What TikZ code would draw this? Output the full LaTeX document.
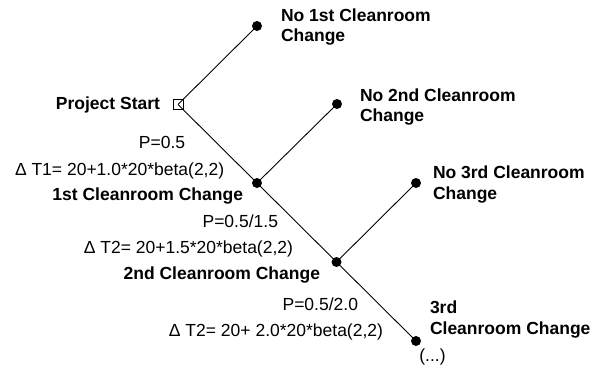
\documentclass[tikz,border=0pt]{standalone}
\usepackage{fontspec}
\setmainfont{Liberation Sans}
\begin{document}
\begin{tikzpicture}[x=1pt,y=-1pt,
  every node/.style={inner sep=0pt, outer sep=0pt, font=\fontsize{17.5}{20}\selectfont},
  bold/.style={font=\fontsize{17.5}{20}\selectfont\bfseries},
  dot/.style={circle, fill=black, minimum size=10pt},
  startbox/.style={draw, line width=0.8pt, minimum size=10pt},
  branch/.style={line width=0.9pt}]
\useasboundingbox (0,0) rectangle (602,367);
% tree nodes
\node[startbox] (start) at (178,104.5) {};
\node[dot] (e1) at (257,26) {};
\node[dot] (n1) at (257,183) {};
\node[dot] (e2) at (337,104) {};
\node[dot] (n2) at (336.5,262) {};
\node[dot] (e3) at (416,183) {};
\node[dot] (n3) at (416,341) {};
% connectors
\draw[branch] (start.center) -- (e1.center);
\draw[branch] (start.center) -- (n1.center);
\draw[branch] (n1.center) -- (e2.center);
\draw[branch] (n1.center) -- (n2.center);
\draw[branch] (n2.center) -- (e3.center);
\draw[branch] (n2.center) -- (n3.center);
% labels
\node[bold, anchor=base east] (lstart) at (160,109.5) {Project Start};
\node[bold, anchor=west, align=left] (le1) at (281,26.7) {No 1st Cleanroom\\Change};
\node[bold, anchor=west, align=left] (le2) at (360,106.7) {No 2nd Cleanroom\\Change};
\node[bold, anchor=west, align=left, font=\fontsize{17.5}{21}\selectfont\bfseries] (le3) at (433,184.2) {No 3rd Cleanroom\\Change};
\node[anchor=base] (p1) at (162,148) {P=0.5};
\node[anchor=base west] (t1) at (15,175) {Δ T1= 20+1.0*20*beta(2,2)};
\node[bold, anchor=base east] (ln1) at (243,200) {1st Cleanroom Change};
\node[anchor=base east] (p2) at (278,227) {P=0.5/1.5};
\node[anchor=base east] (t2) at (293,253) {Δ T2= 20+1.5*20*beta(2,2)};
\node[bold, anchor=base east] (ln2) at (320,279) {2nd Cleanroom Change};
\node[anchor=base east] (p3) at (358,310) {P=0.5/2.0};
\node[anchor=base east] (t3) at (383,336) {Δ T2= 20+ 2.0*20*beta(2,2)};
\node[bold, anchor=west, align=left, font=\fontsize{17.5}{21}\selectfont\bfseries] (ln3) at (430,319.2) {3rd\\Cleanroom Change};
\node (more) at (432.5,357) {(...)};
\end{tikzpicture}
\end{document}
